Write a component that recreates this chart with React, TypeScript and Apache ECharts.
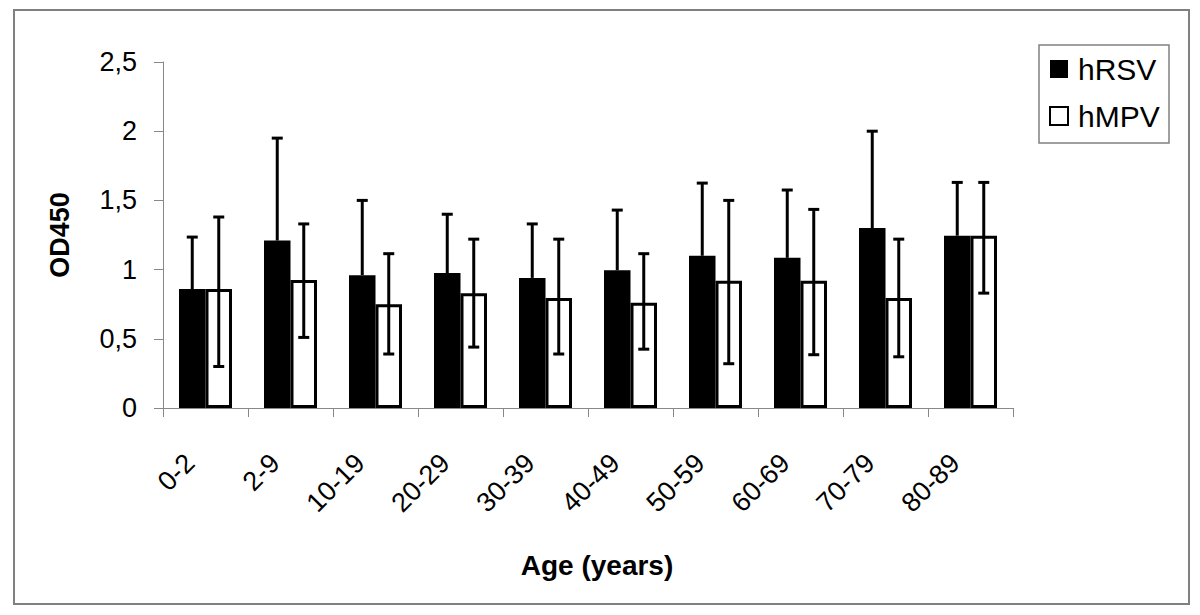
import React, { useEffect, useRef } from "react";
import * as echarts from "echarts";

const categories = ["0-2", "2-9", "10-19", "20-29", "30-39", "40-49", "50-59", "60-69", "70-79", "80-89"];
const hRSV = [0.86, 1.21, 0.96, 0.975, 0.94, 0.995, 1.1, 1.085, 1.3, 1.245];
const hRSVUpper = [1.235, 1.95, 1.5, 1.4, 1.33, 1.43, 1.625, 1.575, 2.0, 1.63];
const hMPV = [0.86, 0.925, 0.75, 0.83, 0.795, 0.76, 0.92, 0.92, 0.795, 1.245];
const hMPVUpper = [1.38, 1.33, 1.115, 1.22, 1.22, 1.115, 1.5, 1.435, 1.22, 1.63];
const hMPVLower = [0.3, 0.51, 0.39, 0.44, 0.39, 0.425, 0.32, 0.385, 0.37, 0.83];
const yTicks = { min: 0, max: 2.5, interval: 0.5 };

const FONT = '"Liberation Sans", Arial, sans-serif';
const BAR_W = 26.5;

function makeErrRender(offset: number, showLower: boolean) {
  return (params: any, api: any) => {
    const i = api.value(0);
    const lo = api.value(1);
    const hi = api.value(2);
    const pLo = api.coord([i, lo]);
    const pHi = api.coord([i, hi]);
    const x = pLo[0] + offset;
    const st = { stroke: "#000", lineWidth: 3 };
    const cap = 5.5;
    const children: any[] = [
      { type: "line", shape: { x1: x, y1: pLo[1], x2: x, y2: pHi[1] }, style: st },
      { type: "line", shape: { x1: x - cap, y1: pHi[1], x2: x + cap, y2: pHi[1] }, style: st },
    ];
    if (showLower) {
      children.push({ type: "line", shape: { x1: x - cap, y1: pLo[1], x2: x + cap, y2: pLo[1] }, style: st });
    }
    return { type: "group", children };
  };
}

export default function App() {
  const ref = useRef<HTMLDivElement>(null);
  useEffect(() => {
    if (!ref.current) return;
    const chart = echarts.init(ref.current, null, { renderer: "svg" });
    const rsvErr = categories.map((_, i) => [i, hRSV[i], hRSVUpper[i]]);
    const mpvErr = categories.map((_, i) => [i, hMPVLower[i], hMPVUpper[i]]);
    chart.setOption({
      animation: false,
      backgroundColor: "#fff",
      textStyle: { fontFamily: FONT },
      graphic: [
        {
          type: "rect",
          shape: { x: 14, y: 10, width: 1175, height: 594 },
          style: { fill: "none", stroke: "#808080", lineWidth: 2 },
          silent: true,
        },
        {
          type: "rect",
          shape: { x: 1039, y: 45, width: 130, height: 98 },
          style: { fill: "#fff", stroke: "#808080", lineWidth: 1.5 },
          silent: true,
          z: 0,
        },
      ],
      grid: { left: 163, right: 187, top: 62, bottom: 207, containLabel: false },
      legend: {
        data: [
          { name: "hRSV", icon: "rect" },
          { name: "hMPV", icon: "rect" },
        ],
        orient: "vertical",
        left: 1049,
        top: 54,
        itemWidth: 18,
        itemHeight: 18,
        itemGap: 17,
        padding: 0,
        z: 10,
        textStyle: { fontFamily: FONT, fontSize: 30, color: "#000", padding: [0, 0, 0, 5] },
      },
      xAxis: {
        type: "category",
        data: categories,
        axisLine: { lineStyle: { color: "#888", width: 1 } },
        axisTick: { show: true, length: 9, lineStyle: { color: "#888" } },
        axisLabel: {
          rotate: 45,
          margin: 35,
          padding: [0, 22, 0, 0],
          fontSize: 27,
          color: "#000",
          fontFamily: FONT,
        },
        name: "Age (years)",
        nameLocation: "middle",
        nameGap: 143,
        nameTextStyle: { fontSize: 28, fontWeight: "bold", color: "#000", fontFamily: FONT, padding: [0, 0, 0, 18] },
      },
      yAxis: {
        type: "value",
        min: yTicks.min,
        max: yTicks.max,
        interval: yTicks.interval,
        splitLine: { show: false },
        axisLine: { show: true, lineStyle: { color: "#888", width: 1 } },
        axisTick: { show: true, length: 9, lineStyle: { color: "#888" } },
        axisLabel: {
          margin: 26,
          fontSize: 27,
          color: "#000",
          fontFamily: FONT,
          formatter: (v: number) => String(v).replace(".", ","),
        },
        name: "OD450",
        nameLocation: "middle",
        nameGap: 90,
        nameTextStyle: { fontSize: 27, fontWeight: "bold", color: "#000", fontFamily: FONT },
      },
      series: [
        {
          name: "hRSV",
          type: "bar",
          data: hRSV,
          barWidth: BAR_W,
          barGap: "0%",
          itemStyle: { color: "#000", borderColor: "#000", borderWidth: 0 },
          z: 2,
        },
        {
          name: "hMPV",
          type: "bar",
          data: hMPV,
          barWidth: BAR_W,
          barGap: "0%",
          itemStyle: { color: "#fff", borderColor: "#000", borderWidth: 3 },
          z: 2,
        },
        {
          name: "errRSV",
          type: "custom",
          data: rsvErr,
          encode: { x: 0, y: [1, 2] },
          renderItem: makeErrRender(-BAR_W / 2, false),
          z: 5,
          silent: true,
        },
        {
          name: "errMPV",
          type: "custom",
          data: mpvErr,
          encode: { x: 0, y: [1, 2] },
          renderItem: makeErrRender(BAR_W / 2, true),
          z: 5,
          silent: true,
        },
      ],
    });
    return () => chart.dispose();
  }, []);
  return <div ref={ref} style={{ position: "absolute", left: 0, top: 0, width: 1200, height: 615 }} />;
}
